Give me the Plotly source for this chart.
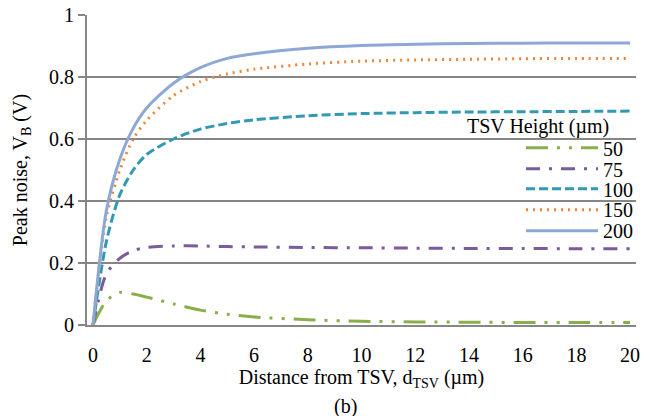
import plotly.graph_objects as go

x_um = [0, 0.5, 1, 1.5, 2, 3, 4, 5, 6, 8, 10, 12, 14, 16, 18, 20]
h50 = [0, 0.078, 0.105, 0.100, 0.090, 0.068, 0.048, 0.035, 0.026, 0.017, 0.012, 0.010, 0.009, 0.008, 0.008, 0.008]
h75 = [0, 0.165, 0.215, 0.240, 0.250, 0.255, 0.255, 0.253, 0.252, 0.250, 0.249, 0.248, 0.247, 0.247, 0.246, 0.246]
h100 = [0, 0.27, 0.42, 0.50, 0.55, 0.60, 0.632, 0.650, 0.662, 0.675, 0.682, 0.685, 0.687, 0.688, 0.689, 0.690]
h150 = [0, 0.35, 0.50, 0.60, 0.66, 0.74, 0.785, 0.810, 0.825, 0.842, 0.851, 0.855, 0.857, 0.859, 0.860, 0.860]
h200 = [0, 0.37, 0.535, 0.635, 0.70, 0.78, 0.83, 0.86, 0.875, 0.893, 0.902, 0.906, 0.908, 0.909, 0.910, 0.910]

names = ["50", "75", "100", "150", "200"]
series = [h50, h75, h100, h150, h200]
colors = ["#8AAE4A", "#7A5B9C", "#3199B4", "#EE8536", "#8EA8D6"]
dashes = ["22px,9px,3px,9px,3px,9px", "14px,9px,3px,9px", "9px,4px", "2px,5px", "solid"]
legend_rows_px = [148, 169, 189, 210, 231]

FONT = "Liberation Serif, Times New Roman, serif"
FS = 20
W, H = 652, 416
L, R, T, B = 87, 16, 15, 90.5
PW, PH = W - L - R, H - T - B


def px_x(p):
    return (p - L) / PW


def px_y(p):
    return (H - B - p) / PH


fig = go.Figure()
legend_ids = ["legend", "legend2", "legend3", "legend4", "legend5"]
for n, s, c, d, lg in zip(names, series, colors, dashes, legend_ids):
    fig.add_trace(go.Scatter(
        x=x_um, y=s, name=n, mode="lines", legend=lg,
        line=dict(color=c, width=3, dash=d, shape="spline", smoothing=0.8),
    ))

layout_legends = {}
for lg, yp in zip(legend_ids, legend_rows_px):
    layout_legends[lg] = dict(
        x=px_x(521), y=px_y(yp), xanchor="left", yanchor="middle",
        bgcolor="rgba(0,0,0,0)", borderwidth=0,
        font=dict(family=FONT, size=FS, color="black"),
        itemwidth=72,
    )

fig.update_layout(
    width=W, height=H,
    margin=dict(l=L, r=R, t=T, b=B, autoexpand=False),
    paper_bgcolor="white", plot_bgcolor="white",
    font=dict(family=FONT, size=FS, color="black"),
    showlegend=True,
    xaxis=dict(
        range=[-0.223, 20.22], tickmode="array", automargin=False,
        tickvals=list(range(0, 21, 2)), ticktext=[str(v) for v in range(0, 21, 2)],
        showgrid=False, zeroline=False,
        showline=True, linecolor="#868686", linewidth=2,
        ticks="outside", ticklen=11, tickcolor="rgba(0,0,0,0)",
        title=dict(text="Distance from TSV, d<sub>TSV</sub> (µm)", standoff=0,
                   font=dict(family=FONT, size=FS)),
        tickfont=dict(family=FONT, size=FS),
    ),
    yaxis=dict(
        range=[0, 1], tickmode="array", automargin=False,
        tickvals=[0, 0.2, 0.4, 0.6, 0.8, 1], ticktext=["0", "0.2", "0.4", "0.6", "0.8", "1"],
        showgrid=True, gridcolor="#868686", gridwidth=2,
        zeroline=False,
        showline=True, linecolor="#868686", linewidth=2,
        ticks="outside", ticklen=7, tickcolor="#868686", tickwidth=2,
        title=dict(text="Peak noise, V<sub>B</sub> (V)", standoff=16,
                   font=dict(family=FONT, size=FS)),
        tickfont=dict(family=FONT, size=FS),
    ),
    shapes=[
        dict(type="rect", xref="paper", yref="paper", layer="between",
             x0=px_x(512), x1=1.02, y0=px_y(242), y1=px_y(115),
             fillcolor="white", line=dict(width=0)),
    ],
    annotations=[
        dict(text="TSV Height (µm)", x=px_x(538), y=px_y(127), xref="paper", yref="paper",
             xanchor="center", yanchor="middle", showarrow=False,
             font=dict(family=FONT, size=FS)),
        dict(text="(b)", x=px_x(345), y=px_y(407), xref="paper", yref="paper",
             xanchor="center", yanchor="middle", showarrow=False,
             font=dict(family=FONT, size=FS)),
    ],
    **layout_legends,
)

fig.write_html("out.html", post_script="document.body.style.margin='0';",
               config={"displayModeBar": False})
